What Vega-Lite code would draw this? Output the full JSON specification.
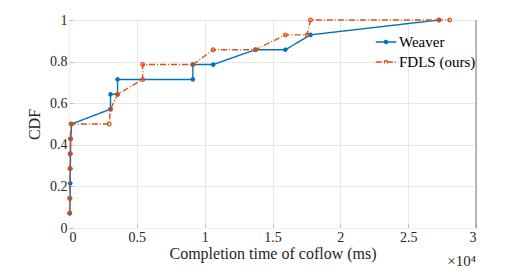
{
  "$schema": "https://vega.github.io/schema/vega-lite/v6.json",
  "autosize": {"type": "none"},
  "padding": {"left": 69, "top": 20, "right": 50, "bottom": 43},
  "width": 407,
  "height": 208,
  "background": "white",
  "config": {
    "font": "Liberation Serif",
    "view": {"stroke": null},
    "text": {"font": "Liberation Serif"},
    "legend": {"labelFont": "Liberation Serif"},
    "axis": {
      "labelFont": "Liberation Serif",
      "titleFont": "Liberation Serif",
      "labelFontSize": 14,
      "titleFontSize": 16,
      "titleFontWeight": "normal",
      "labelColor": "#262626",
      "titleColor": "#262626",
      "gridColor": "#e8e8e8",
      "domainColor": "#f0f0f0",
      "tickColor": "#bbbbbb",
      "tickSize": -4
    }
  },
  "data": {
    "values": [
      {"s": "Weaver", "i": 1, "t": 70, "cdf": 0.0714},
      {"s": "Weaver", "i": 2, "t": 80, "cdf": 0.1429},
      {"s": "Weaver", "i": 3, "t": 90, "cdf": 0.2143},
      {"s": "Weaver", "i": 4, "t": 100, "cdf": 0.2857},
      {"s": "Weaver", "i": 5, "t": 110, "cdf": 0.3571},
      {"s": "Weaver", "i": 6, "t": 130, "cdf": 0.4286},
      {"s": "Weaver", "i": 7, "t": 200, "cdf": 0.5},
      {"s": "Weaver", "i": 8, "t": 3060, "cdf": 0.5714},
      {"s": "Weaver", "i": 9, "t": 3060, "cdf": 0.6429},
      {"s": "Weaver", "i": 10, "t": 3580, "cdf": 0.6429},
      {"s": "Weaver", "i": 11, "t": 3580, "cdf": 0.7143},
      {"s": "Weaver", "i": 12, "t": 9130, "cdf": 0.7143},
      {"s": "Weaver", "i": 13, "t": 9130, "cdf": 0.7857},
      {"s": "Weaver", "i": 14, "t": 10630, "cdf": 0.7857},
      {"s": "Weaver", "i": 15, "t": 13740, "cdf": 0.8571},
      {"s": "Weaver", "i": 16, "t": 15950, "cdf": 0.8571},
      {"s": "Weaver", "i": 17, "t": 17800, "cdf": 0.9286},
      {"s": "Weaver", "i": 18, "t": 27270, "cdf": 1.0},
      {"s": "FDLS (ours)", "i": 1, "t": 40, "cdf": 0.0714},
      {"s": "FDLS (ours)", "i": 2, "t": 50, "cdf": 0.1429},
      {"s": "FDLS (ours)", "i": 3, "t": 70, "cdf": 0.2857},
      {"s": "FDLS (ours)", "i": 4, "t": 80, "cdf": 0.3571},
      {"s": "FDLS (ours)", "i": 5, "t": 100, "cdf": 0.4286},
      {"s": "FDLS (ours)", "i": 6, "t": 150, "cdf": 0.5},
      {"s": "FDLS (ours)", "i": 7, "t": 2960, "cdf": 0.5},
      {"s": "FDLS (ours)", "i": 8, "t": 3060, "cdf": 0.5714},
      {"s": "FDLS (ours)", "i": 9, "t": 3580, "cdf": 0.6429},
      {"s": "FDLS (ours)", "i": 10, "t": 5430, "cdf": 0.7143},
      {"s": "FDLS (ours)", "i": 11, "t": 5430, "cdf": 0.7857},
      {"s": "FDLS (ours)", "i": 12, "t": 9130, "cdf": 0.7857},
      {"s": "FDLS (ours)", "i": 13, "t": 10630, "cdf": 0.8571},
      {"s": "FDLS (ours)", "i": 14, "t": 13740, "cdf": 0.8571},
      {"s": "FDLS (ours)", "i": 15, "t": 15950, "cdf": 0.9286},
      {"s": "FDLS (ours)", "i": 16, "t": 17550, "cdf": 0.9286},
      {"s": "FDLS (ours)", "i": 17, "t": 17800, "cdf": 1.0},
      {"s": "FDLS (ours)", "i": 18, "t": 27270, "cdf": 1.0},
      {"s": "FDLS (ours)", "i": 19, "t": 28060, "cdf": 1.0}
    ]
  },
  "encoding": {
    "x": {
      "field": "t", "type": "quantitative",
      "scale": {"domain": [0, 30000], "nice": false},
      "axis": {
        "values": [0, 5000, 10000, 15000, 20000, 25000, 30000],
        "labelExpr": "datum.value / 10000",
        "title": "Completion time of coflow (ms)",
        "titlePadding": 1,
        "labelPadding": 6
      }
    },
    "y": {
      "field": "cdf", "type": "quantitative",
      "scale": {"domain": [0, 1], "nice": false},
      "axis": {
        "values": [0, 0.2, 0.4, 0.6, 0.8, 1],
        "format": "~g",
        "title": "CDF",
        "titlePadding": 7,
        "labelPadding": 6
      }
    }
  },
  "layer": [
    {
      "transform": [{"filter": "datum.s === 'Weaver'"}],
      "mark": {"type": "line", "strokeWidth": 1.4},
      "encoding": {
        "order": {"field": "i", "type": "quantitative"},
        "color": {
          "field": "s", "type": "nominal",
          "scale": {"domain": ["Weaver", "FDLS (ours)"], "range": ["#0072BD", "#D95319"]},
          "legend": {
            "title": null,
            "orient": "none",
            "legendX": 306,
            "legendY": 11,
            "labelFont": "Liberation Serif",
            "labelFontSize": 15,
            "labelColor": "#000000",
            "symbolType": "M-1,0L1,0M-0.15,0A0.15,0.15 0 1,1 0.15,0A0.15,0.15 0 1,1 -0.15,0",
            "symbolSize": 420,
            "symbolStrokeWidth": 1.4,
            "rowPadding": 1,
            "labelOffset": 2
          }
        },
        "strokeDash": {
          "field": "s", "type": "nominal",
          "scale": {"domain": ["Weaver", "FDLS (ours)"], "range": [[1, 0], [6, 2, 1, 2]]},
          "legend": null
        }
      }
    },
    {
      "transform": [{"filter": "datum.s === 'Weaver'"}],
      "mark": {"type": "point", "shape": "M-1,0L1,0M0,-1L0,1M-0.7,-0.7L0.7,0.7M-0.7,0.7L0.7,-0.7", "filled": false, "size": 22, "strokeWidth": 1.3, "opacity": 1},
      "encoding": {
        "color": {"field": "s", "type": "nominal"}
      }
    },
    {
      "transform": [{"filter": "datum.s === 'FDLS (ours)'"}],
      "mark": {"type": "line", "strokeWidth": 1.4},
      "encoding": {
        "order": {"field": "i", "type": "quantitative"},
        "color": {"field": "s", "type": "nominal"},
        "strokeDash": {"field": "s", "type": "nominal"}
      }
    },
    {
      "transform": [{"filter": "datum.s === 'FDLS (ours)'"}],
      "mark": {"type": "point", "shape": "circle", "filled": false, "size": 14, "strokeWidth": 1.2, "opacity": 1},
      "encoding": {
        "color": {"field": "s", "type": "nominal"}
      }
    },
    {
      "data": {"values": [{"t": 30000, "cdf": 0}, {"t": 30000, "cdf": 1}]},
      "mark": {"type": "line", "color": "#7a7a7a", "strokeWidth": 1},
      "encoding": {}
    },
    {
      "data": {"values": [{"t": 30000, "cdf": 0, "txt": "×10⁴"}]},
      "mark": {"type": "text", "align": "right", "baseline": "middle", "dy": 33, "dx": 0, "fontSize": 15, "font": "Liberation Serif", "color": "#262626"},
      "encoding": {"text": {"field": "txt"}}
    }
  ]
}
